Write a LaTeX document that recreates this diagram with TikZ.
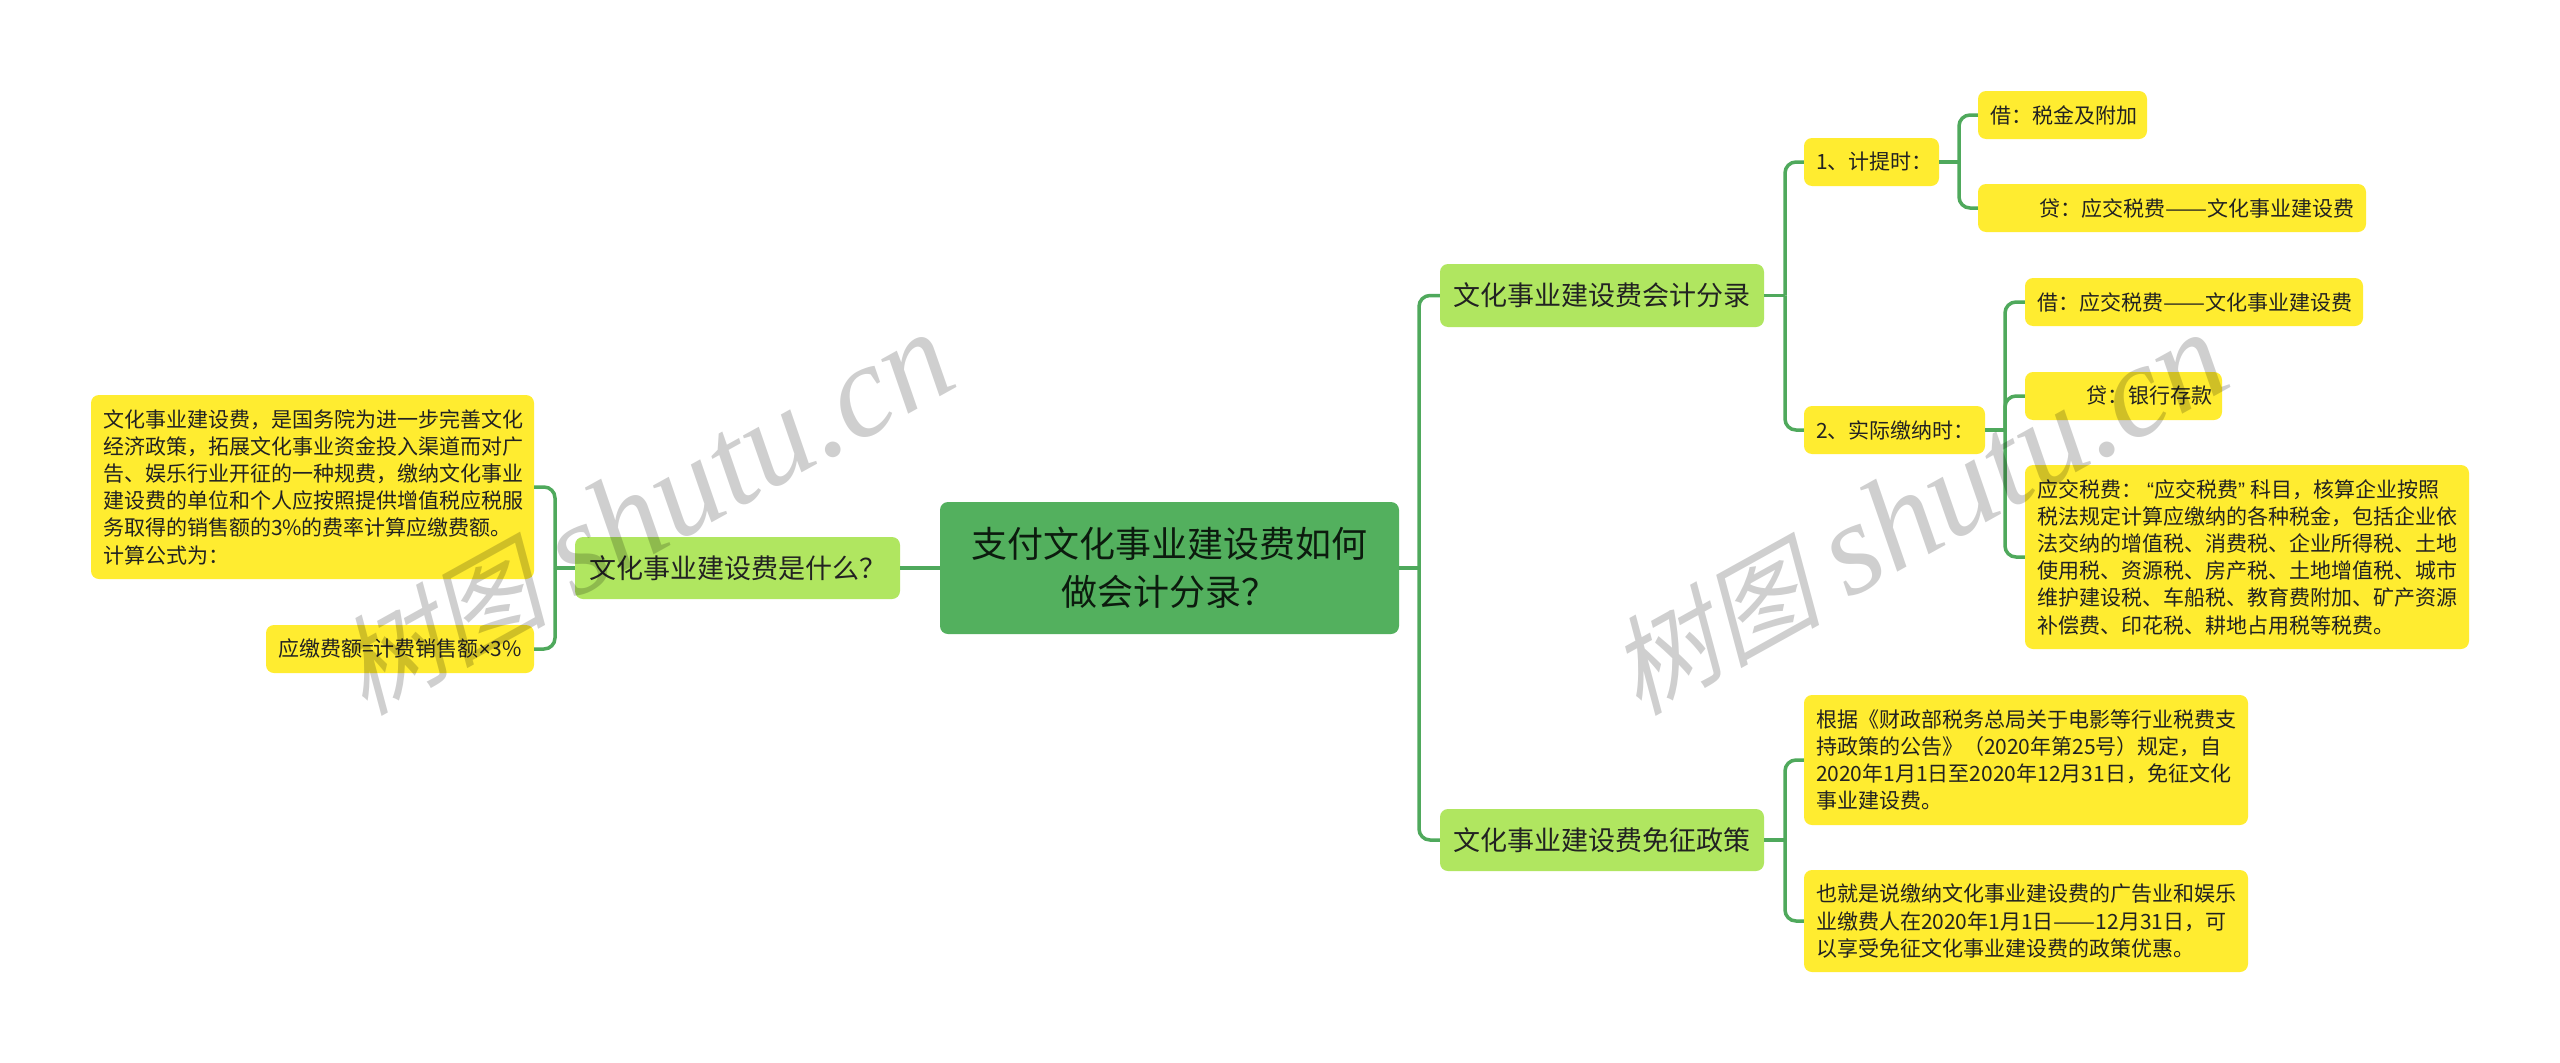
\documentclass[tikz,border=0pt]{standalone}
\usepackage{fontspec}
\usepackage{graphicx}
\setmainfont{Noto Sans CJK SC}
\newfontfamily\wmcjk[FakeSlant=0.25]{Noto Sans CJK SC}
\newfontfamily\wmlat{Liberation Serif}[ItalicFont={Liberation Serif Italic}]
\newfontfamily\narrowlat{Liberation Sans}
\newcommand{\longdash}{\resizebox{42pt}{\height}{——}}
\definecolor{rootgreen}{HTML}{53B05E}
\definecolor{lvlgreen}{HTML}{B0E660}
\definecolor{noteyellow}{HTML}{FFEC30}
\definecolor{inkdark}{HTML}{222222}
\definecolor{linkgreen}{HTML}{4FA95C}
\tikzset{
  x=1pt,y=-1pt,
  basebox/.style={rectangle,rounded corners=8pt,inner ysep=0pt,align=left,text=inkdark,anchor=center},
  rootbox/.style={basebox,fill=rootgreen,align=center,inner xsep=0pt,text=black!85!rootgreen,font=\fontsize{36}{48}\selectfont},
  lvlbox/.style={basebox,fill=lvlgreen,inner xsep=0pt,align=center,font=\fontsize{27}{34}\selectfont},
  notebox/.style={basebox,fill=noteyellow,inner xsep=12pt,font=\fontsize{21}{27.2}\selectfont},
  link/.style={draw=linkgreen,line width=3.5pt,rounded corners=11pt},
  watermark/.style={text=black,opacity=0.19,rotate=29,anchor=center,inner sep=0pt}
}
\begin{document}
\begin{tikzpicture}
\useasboundingbox (0,0) rectangle (2560,1063);
\fill[white] (0,0) rectangle (2560,1063);

\coordinate (jroot) at (1419,568);
\coordinate (jwhat) at (555,568);
\coordinate (jentry) at (1785,295.5);
\coordinate (jaccrue) at (1959,162);
\coordinate (jpay) at (2005,430);
\coordinate (jexempt) at (1785,840);

\node[rootbox,text width=459pt,minimum height=132pt] (root) at (1169.5,568) {支付文化事业建设费如何\\做会计分录？};

\node[lvlbox,text width=325pt,minimum height=62pt] (what) at (737.5,568) {文化事业建设费是什么？};
\node[notebox,text width=419pt,minimum height=184pt] (def) at (312.5,487) {文化事业建设费，是国务院为进一步完善文化\\经济政策，拓展文化事业资金投入渠道而对广\\告、娱乐行业开征的一种规费，缴纳文化事业\\建设费的单位和个人应按照提供增值税应税服\\务取得的销售额的3\%的费率计算应缴费额。\\计算公式为：};
\node[notebox,text width=244pt,minimum height=48pt] (formula) at (400,649) {应缴费额=计费销售额{\narrowlat ×}3\%};

\node[lvlbox,text width=324pt,minimum height=63pt] (entry) at (1602,295.5) {文化事业建设费会计分录};
\node[lvlbox,text width=324pt,minimum height=62pt] (exempt) at (1602,840) {文化事业建设费免征政策};

\node[notebox,text width=111pt,minimum height=48pt] (accrue) at (1871.5,162) {1、计提时：};
\node[notebox,text width=157pt,minimum height=48pt] (pay) at (1894.5,430) {2、实际缴纳时：};

\node[notebox,text width=145pt,minimum height=48pt] (debita) at (2062.5,115) {借：税金及附加};
\node[notebox,text width=364pt,minimum height=48pt] (credita) at (2172,208) {\hspace*{49pt}贷：应交税费\longdash 文化事业建设费};

\node[notebox,text width=314pt,minimum height=48pt] (debitb) at (2194,302) {借：应交税费\longdash 文化事业建设费};
\node[notebox,text width=173pt,minimum height=48pt] (creditb) at (2123.5,396) {\hspace*{49pt}贷：银行存款};
\node[notebox,text width=420pt,minimum height=184pt] (tax) at (2247,557) {应交税费：{\narrowlat\hspace{5pt}“}应交税费{\narrowlat ”\hspace{5pt}}科目，核算企业按照\\税法规定计算应缴纳的各种税金，包括企业依\\法交纳的增值税、消费税、企业所得税、土地\\使用税、资源税、房产税、土地增值税、城市\\维护建设税、车船税、教育费附加、矿产资源\\补偿费、印花税、耕地占用税等税费。};

\node[notebox,text width=420pt,minimum height=130pt] (policy) at (2026,760) {根据《财政部税务总局关于电影等行业税费支\\持政策的公告》（2020年第25号）规定，自\\2020年1月1日至2020年12月31日，免征文化\\事业建设费。};
\node[notebox,text width=420pt,minimum height=102pt] (relief) at (2026,921) {也就是说缴纳文化事业建设费的广告业和娱乐\\业缴费人在2020年1月1日\longdash 12月31日，可\\以享受免征文化事业建设费的政策优惠。};

\draw[link] (root.west) -- (what.east);
\draw[link] (root.east) -- (jroot);
\draw[link] (what.west) -- (jwhat);
\draw[link] (entry.east) -- (jentry);
\draw[link] (accrue.east) -- (jaccrue);
\draw[link] (pay.east) -- (jpay);
\draw[link] (exempt.east) -- (jexempt);
\draw[link] (jwhat) |- (def.east);
\draw[link] (jwhat) |- (formula.east);
\draw[link] (jroot) |- (entry.west);
\draw[link] (jroot) |- (exempt.west);
\draw[link] (jentry) |- (accrue.west);
\draw[link] (jentry) |- (pay.west);
\draw[link] (jaccrue) |- (debita.west);
\draw[link] (jaccrue) |- (credita.west);
\draw[link] (jpay) |- (debitb.west);
\draw[link] (jpay) |- (creditb.west);
\draw[link] (jpay) |- (tax.west);
\draw[link] (jexempt) |- (policy.west);
\draw[link] (jexempt) |- (relief.west);

\node[watermark] (wmleft) at (643,514) {{\fontsize{107}{107}\selectfont\wmcjk 树图}\hspace{26pt}{\fontsize{132}{132}\selectfont\wmlat\itshape shutu.cn}};
\node[watermark] (wmright) at (1917,514) {{\fontsize{107}{107}\selectfont\wmcjk 树图}\hspace{26pt}{\fontsize{132}{132}\selectfont\wmlat\itshape shutu.cn}};
\end{tikzpicture}
\end{document}
